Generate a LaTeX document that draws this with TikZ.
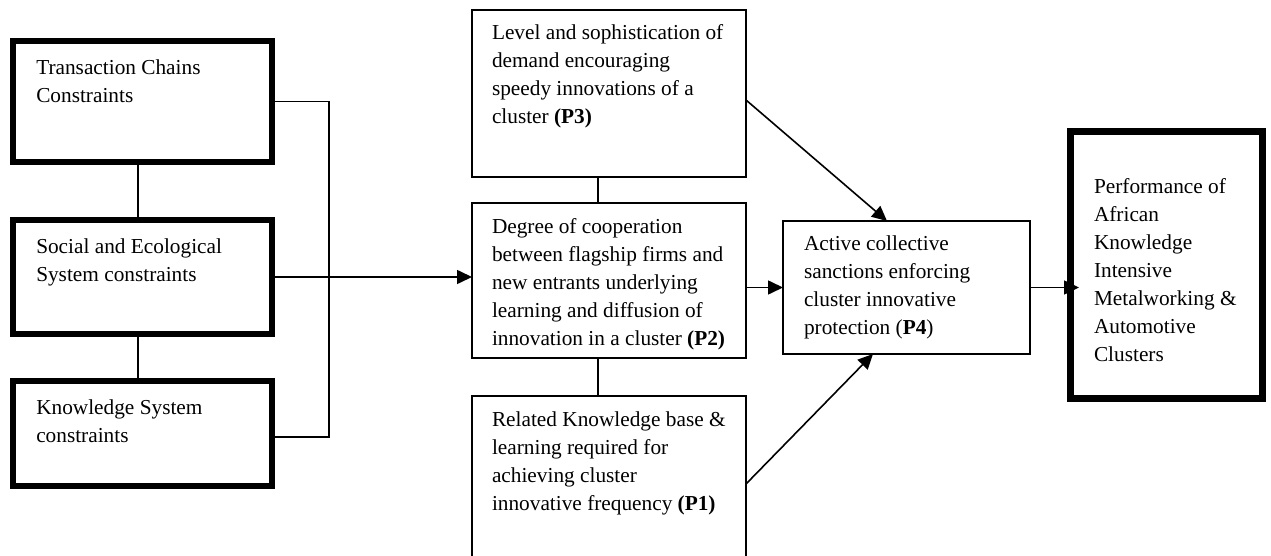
\documentclass[tikz,border=0pt]{standalone}
\usepackage{fontspec}
\setmainfont{Liberation Serif}
\usetikzlibrary{arrows.meta,calc}
\begin{document}
\begin{tikzpicture}[x=1pt,y=-1pt,
 thickbox/.style={draw, line width=6pt, inner sep=0pt, outer sep=0pt, anchor=north west},
 thinbox/.style={draw, line width=1.6pt, inner sep=0pt, outer sep=0pt, anchor=north west},
 txt/.style={font=\fontsize{21.3}{28}\selectfont, align=left, inner sep=0pt, outer sep=0pt, anchor=north west},
 conn/.style={line width=1.6pt},
 arr/.style={line width=1.6pt, -{Triangle[length=15pt,width=14pt]}}]
\useasboundingbox (0,0) rectangle (1271,556);
\clip (0,0) rectangle (1271,556);
% left thick boxes
\node[thickbox, minimum width=258.5pt, minimum height=120.5pt] (b1) at (13.25,41.25) {};
\node[thickbox, minimum width=258.5pt, minimum height=113.5pt] (b2) at (13.25,220.25) {};
\node[thickbox, minimum width=258.5pt, minimum height=104.5pt] (b3) at (13.25,381.25) {};
\node[txt] (t1) at ($(b1.north west)+(23,13.5)$) {\strut Transaction Chains\\Constraints};
\node[txt] (t2) at ($(b2.north west)+(23,13.5)$) {\strut Social and Ecological\\System constraints};
\node[txt] (t3) at ($(b3.north west)+(23,13.5)$) {\strut Knowledge System\\constraints};
% middle boxes
\node[thinbox, minimum width=274pt, minimum height=167pt] (p3) at (472,10) {};
\node[thinbox, minimum width=274pt, minimum height=155pt] (p2) at (472,203) {};
\node[thinbox, minimum width=274pt, minimum height=180pt] (p1) at (472,396) {};
\node[txt] (t4) at ($(p3.north west)+(20,10.4)$) {\strut Level and sophistication of\\demand encouraging\\speedy innovations of a\\cluster \textbf{(P3)}};
\node[txt] (t5) at ($(p2.north west)+(20,10.4)$) {\strut Degree of cooperation\\between flagship firms and\\new entrants underlying\\learning and diffusion of\\innovation in a cluster \textbf{(P2)}};
\node[txt] (t6) at ($(p1.north west)+(20,10.4)$) {\strut Related Knowledge base \&\\learning required for\\achieving cluster\\innovative frequency \textbf{(P1)}};
% P4 box
\node[thinbox, minimum width=247pt, minimum height=133pt] (p4) at (783,221) {};
\node[txt] (t7) at ($(p4.north west)+(21,10)$) {\strut Active collective\\sanctions enforcing\\cluster innovative\\protection (\textbf{P4})};
% right box
\node[thickbox, line width=6.5pt, minimum width=192pt, minimum height=267pt] (r) at (1070.5,131.5) {};
\node[txt] (t8) at ($(r.north west)+(23.5,42)$) {\strut Performance of\\African\\Knowledge\\Intensive\\Metalworking \&\\Automotive\\Clusters};
% connectors
\draw[conn] ([xshift=-4.5pt]b1.south) -- ([xshift=-4.5pt]b2.north);
\draw[conn] ([xshift=-4.5pt]b2.south) -- ([xshift=-4.5pt]b3.north);
\coordinate (brk) at (329,277);
\draw[conn] (b1.east) -| (brk) |- ([yshift=-3.5pt]b3.east);
\draw[arr] (b2.east) -- (b2.east -| p2.west);
\draw[conn] ([xshift=-11pt]p3.south) -- ([xshift=-11pt]p2.north);
\draw[conn] ([xshift=-11pt]p2.south) -- ([xshift=-11pt]p1.north);
\draw[arr] (p2.east |- p4.west) -- (p4.west);
\draw[arr] ($(p3.north east)+(0,90)$) -- ($(p4.north west)+(104,0)$);
\draw[arr] ($(p1.north east)+(0,88)$) -- ($(p4.south west)+(90,0)$);
\draw[arr, shorten >=-8.5pt] (p4.east) -- (p4.east -| r.west);
\end{tikzpicture}
\end{document}
